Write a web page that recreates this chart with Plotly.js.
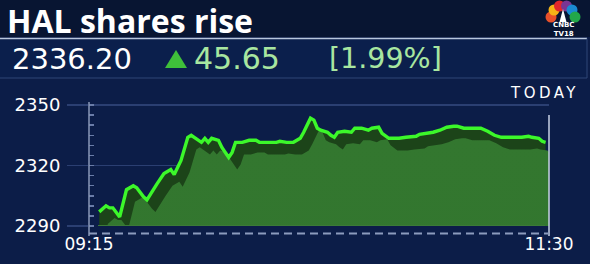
<!DOCTYPE html>
<html>
<head>
<meta charset="utf-8">
<script src="https://cdn.plot.ly/plotly-3.0.1.min.js"></script>
<style>
html,body{margin:0;padding:0;background:#0c1d48;}
#chart{width:590px;height:264px;}
</style>
</head>
<body>
<div id="chart"></div>
<script>
// ---- Data ----
const chartTitle = "HAL shares rise";
const lastPrice = "2336.20";
const change = "45.65";
const changePct = "[1.99%]";
const periodLabel = "TODAY";
const times = ["09:18","09:20","09:21","09:22","09:24","09:26","09:28","09:29","09:31","09:32",
  "09:35","09:37","09:39","09:40","09:42","09:44","09:45","09:47","09:48","09:49",
  "09:50","09:51","09:53","09:54","09:56","09:57","09:58","10:00","10:02","10:04",
  "10:05","10:07","10:10","10:11","10:13","10:15","10:17","10:18","10:20","10:21",
  "10:22","10:23","10:25","10:26","10:27","10:28","10:30","10:32","10:33","10:35",
  "10:37","10:38","10:40","10:41","10:43","10:44","10:46","10:48","10:51","10:52",
  "10:54","10:56","10:58","11:00","11:02","11:03","11:05","11:07","11:10","11:12",
  "11:14","11:16","11:19","11:22","11:24","11:25","11:27","11:28","11:29"];
const prices = [2297,2300,2299,2299,2294.5,2308,2310,2309,2304.5,2303,
  2311,2316,2318,2315.5,2322.5,2334,2335,2332.5,2331.5,2333.5,
  2331.5,2333.5,2332.5,2329,2324,2326.5,2331.5,2331.5,2332.5,2332.5,
  2331.5,2331.5,2331.5,2332,2331.5,2331.5,2333.5,2336.5,2343.5,2342.5,
  2338.5,2337.5,2336.5,2335,2334,2336.5,2337,2336.5,2338.5,2338.5,
  2337.5,2338.5,2339,2336,2333.5,2333.5,2333.5,2334,2334.5,2335.5,
  2336,2336.5,2337.5,2339,2339.5,2339.5,2338.5,2338.5,2338.5,2337,
  2335,2334,2334,2334,2334.5,2334,2333.5,2332,2331.5];
const yTickVals = [2290, 2320, 2350];
const xTickLabels = ["09:15", "11:30"];

// ---- Layout geometry ----
const W = 590, H = 264, ML = 89, MR = 41, MT = 101, MB = 38;
const PW = W - ML - MR, PH = H - MT - MB;
const px = x => (x - ML) / PW;
const py = y => (H - MB - y) / PH;
const DAY = "2024-01-01 ";
const xs = times.map(t => DAY + t);
const yRange = [2290, 2352];
const xRange = [DAY + xTickLabels[0], DAY + xTickLabels[1]];
// shadow offsets (visual 3D ribbon effect) applied through an offset axis
const SHADOW_MIN = 2.5, SHADOW_UNITS = 6;
function shiftTime(s, m){ const d = new Date(s.replace(' ','T')+':00'); d.setSeconds(d.getSeconds()+Math.round(m*60));
  const p=n=>String(n).padStart(2,'0'); return `${d.getFullYear()}-${p(d.getMonth()+1)}-${p(d.getDate())} ${p(d.getHours())}:${p(d.getMinutes())}:${p(d.getSeconds())}`; }

const traces = [
  {x: xs, y: prices, type: 'scatter', mode: 'lines', xaxis: 'x', yaxis: 'y',
   line: {width: 0, color: '#1b4219'}, fill: 'tozeroy', fillcolor: '#1c4419', hoverinfo: 'skip'},
  {x: xs, y: prices, type: 'scatter', mode: 'lines', xaxis: 'x2', yaxis: 'y2',
   line: {width: 0, color: '#2f6c2b'}, fill: 'tozeroy',
   fillgradient: {type: 'vertical', colorscale: [[0, '#275a21'], [1, '#33772f']]}, hoverinfo: 'skip'},
  {x: xs, y: prices, type: 'scatter', mode: 'lines', xaxis: 'x3', yaxis: 'y3',
   line: {width: 3.4, color: '#3cf82a', shape: 'linear'}, hoverinfo: 'skip'}
];

const F = '"DejaVu Sans", sans-serif';
const hidden = {visible: false, fixedrange: true};
const layout = {
  width: W, height: H, margin: {l: ML, r: MR, t: MT, b: MB},
  paper_bgcolor: '#0c1d48', plot_bgcolor: 'rgba(0,0,0,0)',
  showlegend: false,
  xaxis: {type: 'date', range: xRange, tickvals: xTickLabels.map(t => DAY + t), ticktext: xTickLabels,
    ticks: '', showgrid: false, zeroline: false, showline: false,
    tickfont: {family: F, size: 17, color: '#ffffff'}, ticklabelstandoff: 6},
  yaxis: {range: yRange, tickvals: yTickVals, ticks: 'outside', ticklen: 21, tickwidth: 1.5, tickcolor: '#2b3f72',
    showgrid: true, gridcolor: '#2b3f72', gridwidth: 1.5, zeroline: false, showline: false,
    tickfont: {family: F, size: 18, color: '#ffffff'}, ticklabelstandoff: 3,
    minor: {dtick: 5, ticks: 'inside', ticklen: 5, tickcolor: '#6a7ca8', showgrid: false}},
  xaxis2: Object.assign({type: 'date', overlaying: 'x', range: [shiftTime(xRange[0], -SHADOW_MIN), shiftTime(xRange[1], -SHADOW_MIN)]}, hidden),
  yaxis2: Object.assign({overlaying: 'y', range: [yRange[0] + SHADOW_UNITS, yRange[1] + SHADOW_UNITS]}, hidden),
  xaxis3: Object.assign({type: 'date', overlaying: 'x', range: xRange}, hidden),
  yaxis3: Object.assign({overlaying: 'y', range: yRange}, hidden),
  shapes: [
    // header background
    {type: 'rect', xref: 'paper', yref: 'paper', x0: px(0), x1: px(W), y0: py(0), y1: py(37), fillcolor: '#081532', line: {width: 0}, layer: 'below'},
    // price bar
    {type: 'rect', xref: 'paper', yref: 'paper', x0: px(0), x1: px(587), y0: py(38), y1: py(78), fillcolor: '#0b1f4c', line: {width: 0}, layer: 'below'},
    {type: 'line', xref: 'paper', yref: 'paper', x0: px(0), x1: px(587), y0: py(38.5), y1: py(38.5), line: {color: '#b8c6dc', width: 1.5}, layer: 'below'},
    {type: 'line', xref: 'paper', yref: 'paper', x0: px(0), x1: px(587), y0: py(78), y1: py(78), line: {color: '#2e4677', width: 1}, layer: 'below'},
    {type: 'line', xref: 'paper', yref: 'paper', x0: px(587), x1: px(587), y0: py(38.5), y1: py(78), line: {color: '#2e4677', width: 1}, layer: 'below'},
    // left axis line
    {type: 'line', xref: 'paper', yref: 'paper', x0: 0, x1: 0, y0: py(236), y1: py(102), line: {color: '#8a98b8', width: 1.5}, layer: 'above'},
    // right "now" line
    {type: 'line', xref: 'paper', yref: 'paper', x0: 1, x1: 1, y0: py(236), y1: py(115), line: {color: '#c8d2e6', width: 1.5}, layer: 'above'},
    // baseline glow
    {type: 'line', xref: 'paper', yref: 'paper', x0: px(98), x1: px(545), y0: 0.004, y1: 0.004, line: {color: '#3c7a38', width: 1}, layer: 'above'},
    // dashed time axis
    {type: 'line', xref: 'paper', yref: 'paper', x0: 0, x1: 1, y0: py(233.5), y1: py(233.5), line: {color: '#8c9bbd', width: 2, dash: '8px,5px'}, layer: 'above'},
    // up triangle
    {type: 'path', xref: 'paper', yref: 'paper', path: `M ${px(165)} ${py(68)} L ${px(187)} ${py(68)} L ${px(176)} ${py(50)} Z`, fillcolor: '#3fbf3a', line: {width: 0}},
    // CNBC peacock feathers
    ...[['#e8502a', 551, 17], ['#f5b417', 554, 10], ['#e2262b', 559.5, 6], ['#7a3593', 566.5, 6], ['#1a8ad2', 572, 10], ['#22a84a', 575, 17]].map(f => ({
      type: 'circle', xref: 'paper', yref: 'paper', x0: px(f[1] - 5.5), x1: px(f[1] + 5.5), y0: py(f[2] + 5.5), y1: py(f[2] - 5.5),
      fillcolor: f[0], line: {width: 0}})),
    {type: 'path', xref: 'paper', yref: 'paper', path: `M ${px(559.5)} ${py(22)} L ${px(563)} ${py(9)} L ${px(566.5)} ${py(22)} Z`, fillcolor: '#ffffff', line: {width: 0}}
  ],
  annotations: [
    {text: '<b>' + chartTitle + '</b>', xref: 'paper', yref: 'paper', x: px(5), y: py(20.5), xanchor: 'left', yanchor: 'middle', showarrow: false,
     font: {family: '"Open Sans", sans-serif', size: 32, color: '#ffffff'}},
    {text: lastPrice, xref: 'paper', yref: 'paper', x: px(10), y: py(59), xanchor: 'left', yanchor: 'middle', showarrow: false,
     font: {family: F, size: 29, color: '#ffffff'}},
    {text: change, xref: 'paper', yref: 'paper', x: px(192), y: py(59), xanchor: 'left', yanchor: 'middle', showarrow: false,
     font: {family: F, size: 30, color: '#a8e6a0'}},
    {text: changePct, xref: 'paper', yref: 'paper', x: px(327), y: py(59), xanchor: 'left', yanchor: 'middle', showarrow: false,
     font: {family: F, size: 28.5, color: '#a8e6a0'}},
    {text: '<span style="letter-spacing:3.5px">' + periodLabel + '</span>', xref: 'paper', yref: 'paper', x: px(581), y: py(93), xanchor: 'right', yanchor: 'middle', showarrow: false,
     font: {family: F, size: 15, color: '#ffffff'}},
    {text: '<b>CNBC<br>TV18</b>', xref: 'paper', yref: 'paper', x: px(563), y: py(29.5), xanchor: 'center', yanchor: 'middle', showarrow: false,
     font: {family: F, size: 7, color: '#ffffff'}}
  ]
};

Plotly.newPlot('chart', traces, layout, {staticPlot: true, displayModeBar: false});
</script>
</body>
</html>
